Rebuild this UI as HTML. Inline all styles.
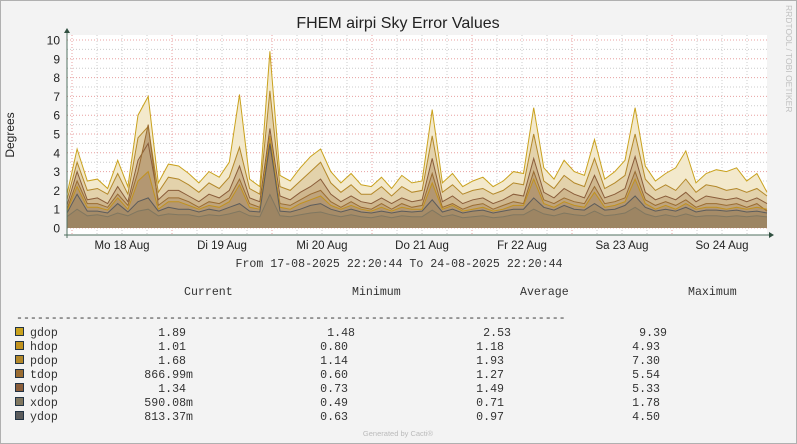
<!DOCTYPE html>
<html><head><meta charset="utf-8"><style>
body{margin:0;background:#f3f3f3}
svg{display:block}
.m{font-family:"Liberation Mono",monospace;font-size:11.6px;fill:#333}
.s{font-family:"Liberation Sans",sans-serif}
</style></head><body>
<svg id="c" width="797" height="444" viewBox="0 0 797 444" xmlns="http://www.w3.org/2000/svg">
<rect x="0.5" y="0.5" width="796" height="443" fill="#f3f3f3" stroke="#b0b0b0"/>
<text x="398" y="28" text-anchor="middle" class="s" font-size="16" fill="#222">FHEM airpi Sky Error Values</text>
<text transform="translate(14,135) rotate(-90)" text-anchor="middle" class="s" font-size="12" fill="#222">Degrees</text>
<text transform="translate(786,5) rotate(90)" class="s" font-size="8.5" fill="#c0c0c0">RRDTOOL / TOBI OETIKER</text>
<rect x="67" y="35" width="700" height="200" fill="#fff"/>
<g id="grid"></g>
<g id="series"></g>
<g id="axes"></g>
<text x="399" y="267" text-anchor="middle" class="m">From 17-08-2025 22:20:44 To 24-08-2025 22:20:44</text>
<g id="legend"></g>
<text x="398" y="436" text-anchor="middle" class="s" font-size="7.5" fill="#bbb">Generated by Cacti®</text>
</svg>
<script>
const yTicks=[0,1,2,3,4,5,6,7,8,9,10];
const dayLabels=["Mo 18 Aug","Di 19 Aug","Mi 20 Aug","Do 21 Aug","Fr 22 Aug","Sa 23 Aug","So 24 Aug"];
const seriesNames=["gdop","pdop","vdop","tdop","hdop","ydop","xdop"];
const gdop=[1.8,4.2,2.5,2.6,2.1,3.6,2.2,6.0,7.0,2.4,3.4,3.3,2.9,2.4,3.0,2.7,3.5,7.1,2.6,2.2,9.4,2.8,2.5,3.2,3.8,4.2,3.0,2.4,2.9,2.3,2.2,2.7,2.1,2.8,2.4,2.5,6.3,2.4,2.9,2.2,2.5,2.7,2.2,2.5,3.0,2.9,6.4,3.2,2.6,3.6,3.0,2.8,4.7,2.6,3.0,3.6,6.4,3.3,2.5,2.9,3.2,4.1,2.4,2.9,3.1,3.0,3.2,2.5,2.9,1.9];
const pdop=[1.5,3.5,2.0,2.1,1.8,2.9,1.8,4.8,5.4,1.9,2.7,2.6,2.3,1.9,2.4,2.1,2.7,4.3,2.1,1.8,7.3,2.2,2.0,2.5,3.0,3.5,2.4,1.9,2.3,1.8,1.8,2.2,1.7,2.2,1.9,2.0,4.9,1.9,2.3,1.8,2.0,2.1,1.8,2.0,2.4,2.3,5.0,2.5,2.1,2.8,2.4,2.2,3.7,2.1,2.4,2.8,5.0,2.6,2.0,2.3,2.0,2.6,1.9,2.3,2.2,2.0,2.1,1.9,2.1,1.7];
const vdop=[1.2,3.0,1.5,1.6,1.3,2.2,1.4,3.6,4.5,1.5,2.0,2.0,1.7,1.4,1.8,1.6,2.0,3.3,1.6,1.4,5.3,1.7,1.5,1.9,2.2,2.6,1.8,1.4,1.7,1.4,1.3,1.6,1.3,1.6,1.4,1.5,3.7,1.4,1.7,1.3,1.5,1.6,1.3,1.5,1.8,1.7,3.7,1.9,1.6,2.1,1.8,1.6,2.8,1.6,1.8,2.1,3.8,1.9,1.5,1.7,1.5,1.9,1.4,1.7,1.6,1.5,1.6,1.4,1.6,1.3];
const tdop=[1.0,2.5,1.3,1.3,1.1,1.8,1.2,3.0,5.5,1.2,1.6,1.6,1.4,1.1,1.4,1.3,1.6,2.6,1.3,1.1,4.4,1.3,1.2,1.5,1.8,2.0,1.4,1.1,1.4,1.1,1.0,1.3,1.0,1.3,1.1,1.2,2.9,1.1,1.3,1.0,1.2,1.3,1.0,1.2,1.4,1.3,3.0,1.5,1.3,1.6,1.4,1.3,2.2,1.3,1.4,1.6,3.0,1.5,1.2,1.4,1.2,1.5,1.1,1.3,1.3,1.2,1.3,1.1,1.3,0.9];
const hdop=[0.9,2.2,1.1,1.1,0.95,1.6,1.0,2.5,3.0,1.0,1.4,1.4,1.2,1.0,1.2,1.1,1.4,2.3,1.1,1.0,4.9,1.1,1.0,1.3,1.5,1.7,1.2,1.0,1.2,1.0,0.9,1.1,0.9,1.1,1.0,1.0,2.4,1.0,1.2,0.9,1.0,1.1,0.9,1.0,1.2,1.2,2.6,1.3,1.1,1.4,1.2,1.1,1.9,1.1,1.2,1.4,2.6,1.3,1.0,1.2,1.0,1.3,1.0,1.1,1.1,1.0,1.1,1.0,1.1,1.0];
const ydop=[0.8,1.8,0.9,0.9,0.8,1.3,0.85,1.4,1.6,0.9,1.1,1.0,1.0,0.85,1.0,0.9,1.1,1.3,0.9,0.85,4.5,0.9,0.85,1.0,1.2,1.3,1.0,0.85,1.0,0.85,0.8,0.9,0.8,0.9,0.85,0.9,1.5,0.85,1.0,0.8,0.9,0.95,0.8,0.9,1.0,1.0,1.6,1.1,0.95,1.2,1.0,0.95,1.3,0.95,1.0,1.2,1.7,1.1,0.9,1.0,0.9,1.1,0.85,0.95,0.95,0.9,0.95,0.85,0.9,0.8];
const xdop=[0.6,1.0,0.65,0.7,0.6,0.8,0.65,0.9,1.0,0.65,0.75,0.7,0.7,0.6,0.7,0.65,0.75,0.9,0.65,0.6,1.78,0.65,0.6,0.7,0.8,0.85,0.7,0.6,0.7,0.6,0.55,0.65,0.55,0.65,0.6,0.6,0.95,0.6,0.7,0.55,0.6,0.65,0.55,0.6,0.7,0.7,1.0,0.75,0.65,0.8,0.7,0.65,0.9,0.65,0.7,0.8,1.1,0.75,0.6,0.7,0.6,0.75,0.6,0.65,0.65,0.6,0.65,0.6,0.65,0.59];
const legendNames=["gdop","hdop","pdop","tdop","vdop","xdop","ydop"];
const legendCurrent=["1.89","1.01","1.68","866.99m","1.34","590.08m","813.37m"];
const legendMin=["1.48","0.80","1.14","0.60","0.73","0.49","0.63"];
const legendAvg=["2.53","1.18","1.93","1.27","1.49","0.71","0.97"];
const legendMax=["9.39","4.93","7.30","5.54","5.33","1.78","4.50"];

const NS="http://www.w3.org/2000/svg";
const X0=67,X1=767,Y0=228,PPU=18.8;
const yS=v=>Y0-v*PPU;
const xS=(i,n)=>X0+i*(X1-X0)/(n-1);
function mk(tag,at,parent){const e=document.createElementNS(NS,tag);for(const k in at)e.setAttribute(k,at[k]);parent.appendChild(e);return e;}
const grid=document.getElementById('grid'),ser=document.getElementById('series'),ax=document.getElementById('axes'),leg=document.getElementById('legend');
// grid
for(let h=0.5;h<=10.3;h+=1){const l=mk('line',{x1:X0,x2:X1,y1:yS(h),y2:yS(h),stroke:'#ccc','stroke-dasharray':'1,2'},grid);}
for(let d=0;d<=7;d++){for(let q=0;q<4;q++){const x=72+d*100+q*25;if(x>X1)continue;const l=mk('line',{x1:x,x2:x,y1:35,y2:235,stroke:q==0?'#e8a0a0':'#ccc','stroke-dasharray':'1,2'},grid);}}
yTicks.forEach(t=>{const l=mk('line',{x1:X0,x2:X1,y1:yS(t),y2:yS(t),stroke:'#e8a0a0','stroke-dasharray':'1,2'},grid);
const tx=mk('text',{x:60,y:yS(t)+4.5,'text-anchor':'end','class':'s','font-size':'12',fill:'#222'},ax);tx.textContent=t;});
dayLabels.forEach((d,i)=>{const tx=mk('text',{x:122+i*100,y:249,'text-anchor':'middle','class':'s','font-size':'11.5',fill:'#222'},ax);tx.textContent=d;});
// series
const data={gdop,pdop,vdop,tdop,hdop,ydop,xdop};
const fills={gdop:'#f3e9cc',pdop:'#e3d2ab',vdop:'#cfb78e',tdop:'#bfa47c',hdop:'#b39772',ydop:'#a68c68',xdop:'#9d8563'};
const strokes={gdop:'#c9a21e',pdop:'#b3882a',vdop:'#8a5d3a',tdop:'#9a6c32',hdop:'#c1921f',ydop:'#5c5c5c',xdop:'#807760'};
seriesNames.forEach(nm=>{const v=data[nm],n=v.length;let p='M'+X0+','+Y0;v.forEach((d,i)=>{p+=' L'+xS(i,n).toFixed(1)+','+yS(d).toFixed(1);});
const a=mk('path',{d:p+' L'+X1+','+Y0+' Z',fill:fills[nm]},ser);});
seriesNames.forEach(nm=>{const v=data[nm],n=v.length;const pts=v.map((d,i)=>xS(i,n).toFixed(1)+','+yS(d).toFixed(1)).join(' ');
const l=mk('polyline',{points:pts,fill:'none',stroke:strokes[nm],'stroke-width':'1'},ser);});
// axes
const a1=mk('line',{x1:X0,x2:X0,y1:32,y2:238,stroke:'#507060'},ax);
const a2=mk('line',{x1:64,x2:770,y1:235,y2:235,stroke:'#507060'},ax);
const r1=mk('path',{d:'M64,33 L70,33 L67,28 Z',fill:'#305040'},ax);
const r2=mk('path',{d:'M769,232 L769,238 L774,235 Z',fill:'#305040'},ax);
// legend
const hdr=[["Current",184],["Minimum",352],["Average",520],["Maximum",688]];
hdr.forEach(h=>{const t=mk('text',{x:h[1],y:295,'class':'m'},leg);t.textContent=h[0];});
const dash=mk('text',{x:16,y:321,'class':'m'},leg);dash.textContent='-'.repeat(79);
const sw={gdop:'#c9a21e',hdop:'#c1921f',pdop:'#b3882a',tdop:'#9a6c32',vdop:'#8a5d3a',xdop:'#807760',ydop:'#5c5c5c'};
function rt(s,endX,y,nm){const t=mk('text',{x:endX,y:y,'class':'m','text-anchor':'end'},leg);t.textContent=s;}
legendNames.forEach((nm,i)=>{const y=332+i*14;
const r=mk('rect',{x:15.5,y:y-4.5,width:8,height:8,fill:sw[nm],stroke:'#234'},leg);
const t=mk('text',{x:30,y:y+4,'class':'m'},leg);t.textContent=nm;
const cEnd=legendCurrent[i].endsWith('m')?193:186;rt(legendCurrent[i],cEnd,y+4,'legend-current');
rt(legendMin[i],i==0?355:348,y+4,'legend-minimum');
rt(legendAvg[i],i==0?511:504,y+4,'legend-average');
rt(legendMax[i],i==0?667:660,y+4,'legend-maximum');});
</script>
</body></html>
